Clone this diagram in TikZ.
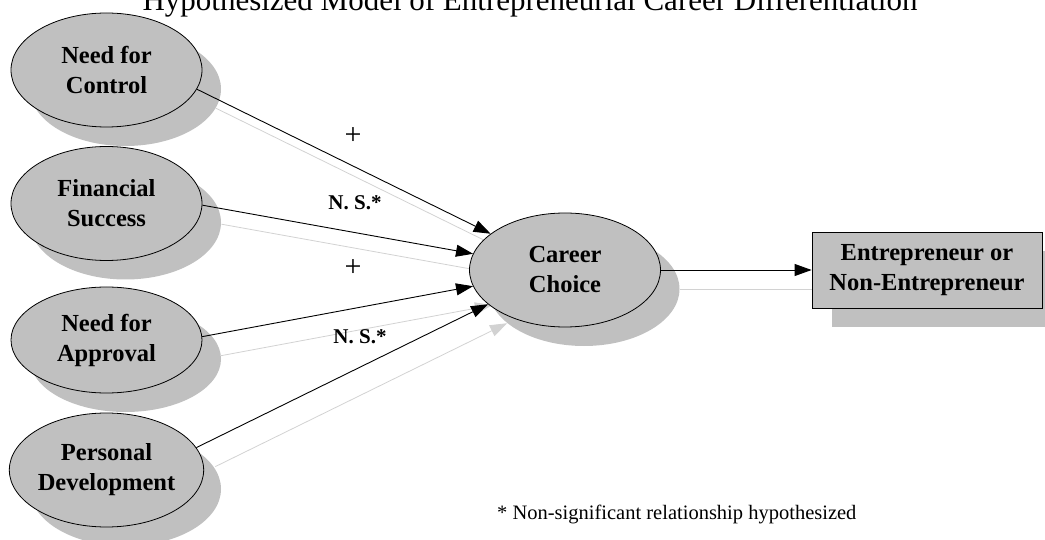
\documentclass[tikz,border=0pt]{standalone}
\usepackage{fontspec}
\setmainfont{Liberation Serif}
\usetikzlibrary{arrows.meta,shapes.geometric}
\pgfdeclarelayer{bg}
\pgfdeclarelayer{fg}
\pgfsetlayers{bg,main,fg}
\definecolor{fillg}{HTML}{C0C0C0}
\definecolor{shadg}{HTML}{C0C0C0}
\definecolor{lineg}{HTML}{D2D2D2}
\begin{document}
\begin{tikzpicture}[x=1pt,y=-1pt,
  ell/.style={ellipse, draw=black, line width=0.8pt, fill=fillg, minimum width=191pt, minimum height=114pt, inner sep=0pt, align=center, font=\fontsize{24.5}{30}\selectfont\bfseries},
  ellsh/.style={ellipse, fill=shadg, minimum width=191pt, minimum height=114pt, inner sep=0pt},
  boxst/.style={rectangle, draw=black, line width=0.8pt, fill=fillg, minimum width=230pt, minimum height=76pt, inner sep=0pt, align=center, font=\fontsize{24.5}{30}\selectfont\bfseries},
  boxsh/.style={rectangle, fill=shadg, minimum width=230pt, minimum height=76pt, inner sep=0pt},
  arr/.style={draw=black, line width=0.9pt, -{Triangle[length=17pt,width=12pt]}},
  arrsh/.style={draw=lineg, line width=0.8pt, -{Triangle[length=17pt,width=12pt,fill=lineg]}},
  pluslbl/.style={font=\fontsize{30}{32}\selectfont, inner sep=0pt},
  nslbl/.style={font=\fontsize{21}{24}\selectfont\bfseries, inner sep=0pt}
]
\useasboundingbox (0,0) rectangle (1045,540);

% title and footnote
\node[anchor=base, font=\fontsize{31}{36}\selectfont] (title) at (530,10.5) {Hypothesized Model of Entrepreneurial Career Differentiation};
\node[anchor=base west, font=\fontsize{20.5}{24}\selectfont, inner sep=0pt] (fn) at (497,519) {* Non-significant relationship hypothesized};

% main shapes
\begin{pgfonlayer}{fg}
\node[ell] (nc) at (106.5,70) {Need for\\Control};
\node[ell] (fs) at (106.5,203.5) {Financial\\Success};
\node[ell, minimum height=106pt] (na) at (106.5,340) {Need for\\Approval};
\node[ell] (pd) at (106.5,470) {Personal\\Development};
\node[ell] (cc) at (565,270) {Career\\Choice};
\node[boxst] (box) at (927,270) {Entrepreneur or\\Non-Entrepreneur};
\end{pgfonlayer}

% shadows
\begin{pgfonlayer}{bg}
\node[ellsh] (ncs) at ([shift={(19,19)}]nc) {};
\node[ellsh] (fss) at ([shift={(19,19)}]fs) {};
\node[ellsh, minimum height=106pt] (nas) at ([shift={(19,19)}]na) {};
\node[ellsh] (pds) at ([shift={(19,19)}]pd) {};
\node[ellsh] (ccs) at ([shift={(19,19)}]cc) {};
\node[boxsh] (boxs) at ([shift={(20,19)}]box) {};
\draw[arrsh] ([shift={(19,19)}]nc.-12) -- ([shift={(19,19)}]cc.154);
\draw[arrsh] ([shift={(19,19)}]fs.-1) -- ([shift={(19,19)}]cc.170);
\draw[arrsh] ([shift={(19,19)}]na.2) -- ([shift={(19,19)}]cc.190);
\draw[arrsh] ([shift={(19,19)}]pd.14.5) -- ([shift={(19,19)}]cc.204);
\draw[arrsh] ([shift={(19,19)}]cc.east) -- ([shift={(19,19)}]box.west);
\end{pgfonlayer}

% connectors
\draw[arr] (nc.-12) -- (cc.154);
\draw[arr] (fs.-1) -- (cc.170);
\draw[arr] (na.2) -- (cc.190);
\draw[arr] (pd.14.5) -- (cc.204);
\draw[arr] (cc.east) -- (box.west);

% labels
\node[pluslbl] (p1) at (353,136) {+};
\node[nslbl] (ns1) at (355,203) {N. S.*};
\node[pluslbl] (p2) at (353,268) {+};
\node[nslbl] (ns2) at (360,337) {N. S.*};
\end{tikzpicture}
\end{document}
